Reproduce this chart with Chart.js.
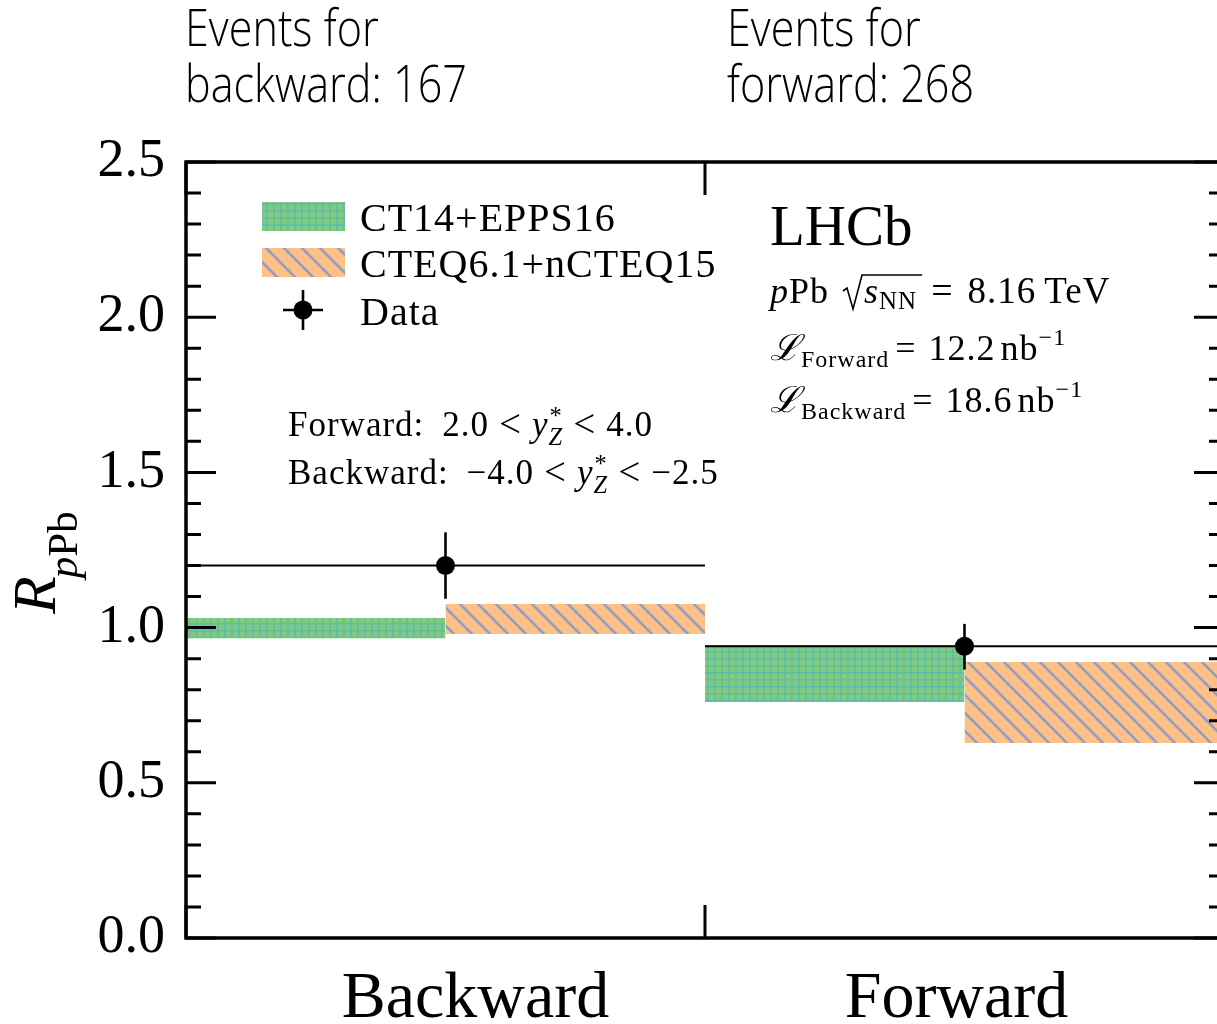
<!DOCTYPE html>
<html>
<head>
<meta charset="utf-8">
<script src="https://cdn.jsdelivr.net/npm/chart.js@4.4.1/dist/chart.umd.min.js"></script>
<style>
  html, body { margin: 0; padding: 0; background: #fff; overflow: hidden; width: 1217px; height: 1024px; }
  #wrap { position: absolute; left: 0; top: 0; width: 1240px; height: 1024px; }
</style>
</head>
<body>
<div id="wrap"><canvas id="c" width="1240" height="1024"></canvas></div>
<script>
// ---------------- data ----------------
const categories = ['Backward', 'Forward'];
const eventCounts = [167, 268];
const dataR = [1.20, 0.94];
const dataErrUp = [0.107, 0.072];
const dataErrDown = [0.107, 0.075];
const ct14Low = [0.966, 0.760];
const ct14High = [1.031, 0.944];
const cteqLow = [0.979, 0.628];
const cteqHigh = [1.076, 0.889];
const yTicks = [0.0, 0.5, 1.0, 1.5, 2.0, 2.5];
const modelNames = ['CT14+EPPS16', 'CTEQ6.1+nCTEQ15'];

// ---------------- patterns ----------------
function greenPattern() {
  const s = 7, c = document.createElement('canvas');
  c.width = s; c.height = s;
  const g = c.getContext('2d');
  g.fillStyle = '#82ca7c'; g.fillRect(0, 0, s, s);
  g.fillStyle = 'rgba(92,188,172,0.9)';
  g.fillRect(0, 0, 1.6, s);
  g.fillRect(0, 0, s, 1.6);
  return g.createPattern(c, 'repeat');
}
function orangePattern() {
  const s = 18, c = document.createElement('canvas');
  c.width = s; c.height = s;
  const g = c.getContext('2d');
  g.fillStyle = '#fdc086'; g.fillRect(0, 0, s, s);
  g.strokeStyle = '#8f9fcc'; g.lineWidth = 2.6;
  [[-s, 0], [0, 0], [s, 0], [0, -s], [0, s]].forEach(([ox, oy]) => {
    g.beginPath(); g.moveTo(ox - 2, oy - 2); g.lineTo(ox + s + 2, oy + s + 2); g.stroke();
  });
  return g.createPattern(c, 'repeat');
}
const patterns = [greenPattern(), orangePattern()];

// ---------------- datasets ----------------
const datasets = [];
categories.forEach((cat, i) => {
  const R = dataR[i];
  datasets.push({ data: [{x: i, y: R}, {x: i + 1, y: R}], borderColor: '#000', borderWidth: 2,
    pointRadius: 0, fill: false, order: 0 });
  datasets.push({ data: [{x: i + 0.5, y: R - dataErrDown[i]}, {x: i + 0.5, y: R + dataErrUp[i]}],
    borderColor: '#000', borderWidth: 2.6, pointRadius: 0, fill: false, order: 0 });
  datasets.push({ data: [{x: i + 0.5, y: R}], showLine: false, pointRadius: 9.5,
    pointBackgroundColor: '#000', pointBorderColor: '#000', pointBorderWidth: 0, order: 0 });
});
const lows = [ct14Low, cteqLow], highs = [ct14High, cteqHigh];
categories.forEach((cat, i) => {
  [0, 1].forEach(m => {
    const x0 = i + m * 0.5, x1 = x0 + 0.5;
    datasets.push({ data: [{x: x0, y: lows[m][i]}, {x: x1, y: lows[m][i]}],
      borderWidth: 0, borderColor: 'rgba(0,0,0,0)', pointRadius: 0, fill: false, order: 1 });
    datasets.push({ data: [{x: x0, y: highs[m][i]}, {x: x1, y: highs[m][i]}],
      borderWidth: 0, borderColor: 'rgba(0,0,0,0)', pointRadius: 0, fill: '-1',
      backgroundColor: patterns[m], order: 1 });
  });
});

// ---------------- text helpers ----------------
const SERIF = '"Liberation Serif", "DejaVu Serif", serif';
const RM = s => `${s}px ${SERIF}`;
const IT = s => `italic ${s}px ${SERIF}`;
function rich(ctx, x, y, parts) {
  parts.forEach(p => {
    ctx.font = p.f;
    ctx.fillText(p.t, x, y + (p.dy || 0));
    x += ctx.measureText(p.t).width + (p.sp || 0);
  });
  return x;
}
function starZ(ctx, x, y, size) {
  ctx.font = RM(size * 0.7);
  ctx.fillText('*', x + 1, y - size * 0.35);
  const w1 = ctx.measureText('*').width;
  ctx.font = IT(size * 0.7);
  ctx.fillText('Z', x, y + size * 0.25);
  const w2 = ctx.measureText('Z').width;
  return x + Math.max(w1, w2) + 2;
}

const overlay = {
  id: 'overlay',
  afterDraw(chart) {
    const ctx = chart.ctx, a = chart.chartArea;
    const xs = chart.scales.x, ys = chart.scales.y;
    ctx.save();
    ctx.fillStyle = '#000'; ctx.strokeStyle = '#000';
    ctx.textBaseline = 'alphabetic'; ctx.textAlign = 'left';

    // frame
    ctx.lineWidth = 3.5;
    ctx.strokeRect(a.left, a.top, a.right - a.left, a.bottom - a.top);

    // y ticks (inward, both sides)
    ctx.lineWidth = 3;
    for (let k = 0; k <= 25; k++) {
      const v = k / 10, py = ys.getPixelForValue(v);
      const len = (k % 5 === 0) ? 30 : 15;
      ctx.beginPath();
      ctx.moveTo(a.left, py); ctx.lineTo(a.left + len, py);
      ctx.moveTo(a.right, py); ctx.lineTo(a.right - len, py);
      ctx.stroke();
    }
    // x ticks at bin edges
    [0, 1, 2].forEach(v => {
      const px = xs.getPixelForValue(v);
      ctx.beginPath();
      ctx.moveTo(px, a.top); ctx.lineTo(px, a.top + 33);
      ctx.moveTo(px, a.bottom); ctx.lineTo(px, a.bottom - 33);
      ctx.stroke();
    });

    // category labels
    ctx.font = RM(66); ctx.textAlign = 'center';
    const labOff = [30, -8];
    categories.forEach((c, i) => {
      ctx.fillText(c, xs.getPixelForValue(i + 0.5) + labOff[i], 1017);
    });
    ctx.textAlign = 'left';

    // y axis title R_pPb (rotated)
    ctx.save();
    ctx.translate(55, 614);
    ctx.rotate(-Math.PI / 2);
    rich(ctx, 0, 0, [
      {t: 'R', f: IT(62), sp: -2},
      {t: 'p', f: IT(43), dy: 22},
      {t: 'Pb', f: RM(43), dy: 22}
    ]);
    ctx.restore();

    ctx.letterSpacing = '1px';
    // legend
    ctx.fillStyle = patterns[0]; ctx.fillRect(262, 202, 83, 29);
    ctx.fillStyle = patterns[1]; ctx.fillRect(262, 248, 83, 29);
    ctx.fillStyle = '#000';
    ctx.lineWidth = 2.6;
    ctx.beginPath();
    ctx.moveTo(283, 310); ctx.lineTo(323, 310);
    ctx.moveTo(303, 290); ctx.lineTo(303, 330);
    ctx.stroke();
    ctx.beginPath(); ctx.arc(303, 310, 9.5, 0, Math.PI * 2); ctx.fill();
    ctx.font = RM(40);
    ctx.fillText(modelNames[0], 360, 231);
    ctx.fillText(modelNames[1], 360, 277);
    ctx.fillText('Data', 360, 325);

    // rapidity ranges
    const fs = 35;
    let x = rich(ctx, 288, 436, [{t: 'Forward:', f: RM(fs), sp: 18}, {t: '2.0', f: RM(fs), sp: 10},
      {t: '<', f: RM(fs + 4), dy: 1, sp: 10}, {t: 'y', f: IT(fs)}]);
    x = starZ(ctx, x, 436, fs);
    rich(ctx, x + 8, 436, [{t: '<', f: RM(fs + 4), dy: 1, sp: 10}, {t: '4.0', f: RM(fs)}]);
    x = rich(ctx, 288, 484, [{t: 'Backward:', f: RM(fs), sp: 18}, {t: '\u22124.0', f: RM(fs), sp: 10},
      {t: '<', f: RM(fs + 4), dy: 1, sp: 10}, {t: 'y', f: IT(fs)}]);
    x = starZ(ctx, x, 484, fs);
    rich(ctx, x + 8, 484, [{t: '<', f: RM(fs + 4), dy: 1, sp: 10}, {t: '\u22122.5', f: RM(fs)}]);

    // LHCb block
    ctx.letterSpacing = '0px';
    ctx.font = RM(57);
    ctx.fillText('LHCb', 770, 245);
    ctx.letterSpacing = '1px';
    x = rich(ctx, 770, 303, [{t: 'p', f: IT(36)}, {t: 'Pb', f: RM(36), sp: 12}]);
    const rx = x + 2;
    ctx.font = IT(36);
    const sw = ctx.measureText('s').width;
    ctx.font = RM(25);
    const nw = ctx.measureText('NN').width;
    ctx.lineWidth = 1.6;
    ctx.beginPath();
    ctx.moveTo(rx, 291); ctx.lineTo(rx + 4, 288); ctx.lineTo(rx + 10, 309);
    ctx.lineTo(rx + 19, 275); ctx.lineTo(rx + 22 + sw + nw + 4, 275);
    ctx.stroke();
    x = rich(ctx, rx + 21, 303, [{t: 's', f: IT(36)}, {t: 'NN', f: RM(25), dy: 6}]);
    rich(ctx, x + 14, 303, [{t: '=', f: RM(38), sp: 14}, {t: '8.16', f: RM(37), sp: 8}, {t: 'TeV', f: RM(37)}]);

    rich(ctx, 770, 360, [{t: '\u2112', f: IT(36)}, {t: 'Forward', f: RM(24), dy: 7, sp: 6},
      {t: '=', f: RM(36), sp: 12}, {t: '12.2', f: RM(36), sp: 5}, {t: 'nb', f: RM(36)},
      {t: '\u22121', f: RM(24), dy: -15}]);
    rich(ctx, 770, 412, [{t: '\u2112', f: IT(36)}, {t: 'Backward', f: RM(24), dy: 7, sp: 6},
      {t: '=', f: RM(36), sp: 12}, {t: '18.6', f: RM(36), sp: 5}, {t: 'nb', f: RM(36)},
      {t: '\u22121', f: RM(24), dy: -15}]);
    ctx.letterSpacing = '0px';

    // event counts (condensed sans text above the plot)
    ctx.font = '300 52px "Open Sans", "Noto Sans", sans-serif';
    const ref = ctx.measureText('backward: ' + eventCounts[0]).width;
    const sx = 282 / ref;
    const drawCond = (t, x0, y0) => {
      ctx.save(); ctx.translate(x0, y0); ctx.scale(sx, 1); ctx.fillText(t, 0, 0); ctx.restore();
    };
    drawCond('Events for', 185, 46);
    drawCond('backward: ' + eventCounts[0], 185, 102);
    drawCond('Events for', 727, 46);
    drawCond('forward: ' + eventCounts[1], 727, 102);

    ctx.restore();
  }
};

new Chart(document.getElementById('c'), {
  type: 'line',
  data: { datasets },
  options: {
    responsive: false,
    animation: false,
    events: [],
    layout: { padding: { left: 0, top: 162, right: 16, bottom: 86 } },
    plugins: { legend: { display: false }, tooltip: { enabled: false } },
    scales: {
      x: { type: 'linear', min: 0, max: 2, display: false },
      y: {
        type: 'linear', min: 0, max: 2.5,
        afterBuildTicks: s => { s.ticks = yTicks.map(v => ({ value: v })); },
        afterFit: s => { s.width = 186; },
        ticks: { callback: v => Number(v).toFixed(1), color: '#000', padding: 21,
          font: { family: 'Liberation Serif', size: 54 } },
        grid: { display: false, drawTicks: false, tickLength: 0 },
        border: { display: false }
      }
    }
  },
  plugins: [overlay]
});
</script>
</body>
</html>
